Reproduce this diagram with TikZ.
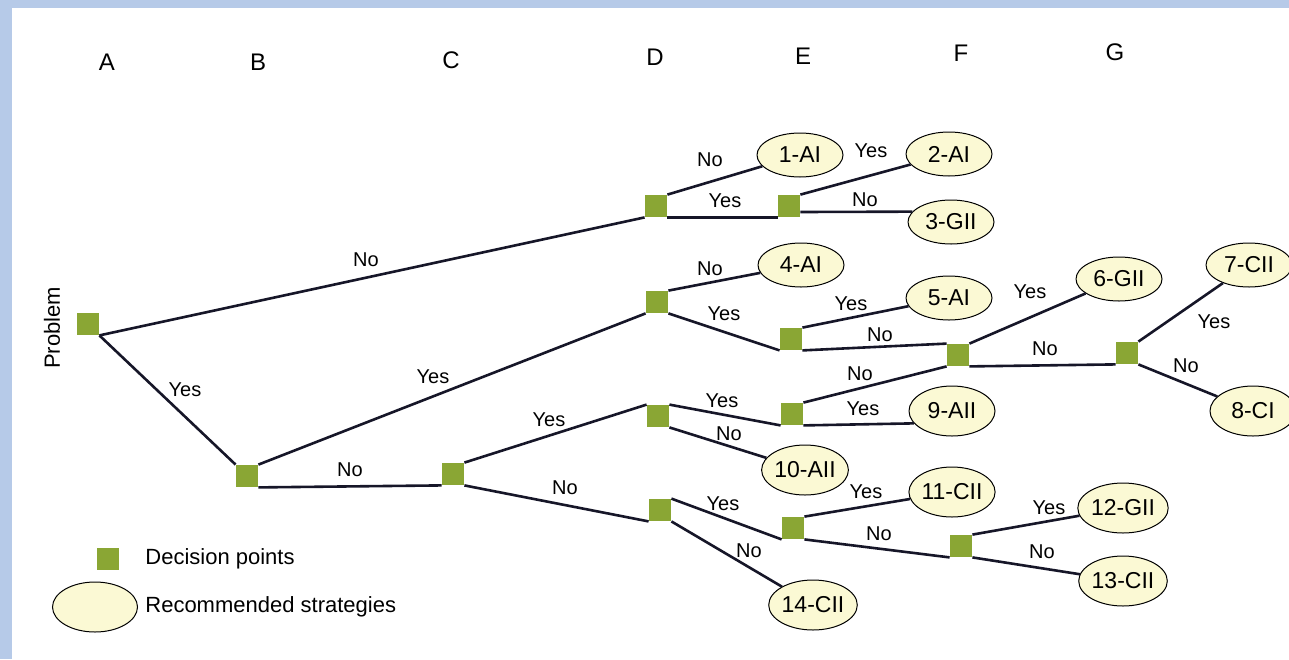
\documentclass[tikz,border=0pt]{standalone}
\usepackage{fontspec}
\setmainfont{Liberation Sans}
\usetikzlibrary{shapes.geometric}
\definecolor{dgreen}{RGB}{138,166,52}
\definecolor{eyellow}{RGB}{251,249,212}
\definecolor{lineblue}{RGB}{22,22,40}
\definecolor{frameblue}{RGB}{182,202,232}
\tikzset{
  dp/.style={rectangle, fill=dgreen, minimum size=11pt, inner sep=0pt},
  strat/.style={ellipse, draw=black, line width=0.5pt, fill=eyellow, minimum width=43pt, minimum height=22pt, inner sep=0pt, font=\fontsize{11.5}{12}\selectfont},
  tall/.style={minimum height=25pt},
  lbl/.style={font=\fontsize{10}{11}\selectfont, inner sep=0pt},
  leg/.style={font=\fontsize{11}{12}\selectfont, inner sep=0pt},
  hdr/.style={font=\fontsize{12}{13}\selectfont, inner sep=0pt},
  conn/.style={draw=lineblue, line width=1.3pt},
}
\begin{document}
\begin{tikzpicture}[x=0.5pt,y=-0.5pt]
\useasboundingbox (0,0) rectangle (1289,659);
\fill[white] (0,0) rectangle (1289,659);
\fill[frameblue] (0,0) rectangle (1289,8);
\fill[frameblue] (0,0) rectangle (12,659);

% headers
\node[hdr] (hA) at (107,62) {A};
\node[hdr] (hB) at (258,62) {B};
\node[hdr] (hC) at (451,60) {C};
\node[hdr] (hD) at (655,57) {D};
\node[hdr] (hE) at (803,56) {E};
\node[hdr] (hF) at (961,53) {F};
\node[hdr] (hG) at (1115,52) {G};

\node[leg, rotate=90] (prob) at (52,328) {Problem};

% decision points
\node[dp] (P0) at (88,324) {};
\node[dp] (B1) at (247,476) {};
\node[dp] (C1) at (453,474) {};
\node[dp] (D1) at (656,206) {};
\node[dp] (E1) at (789,206) {};
\node[dp] (D2) at (657,302) {};
\node[dp] (E2) at (791,339) {};
\node[dp] (F1) at (958,355) {};
\node[dp] (G1) at (1127,353) {};
\node[dp] (D3) at (658,416) {};
\node[dp] (E3) at (792,414) {};
\node[dp] (D4) at (660,510) {};
\node[dp] (E4) at (793,528) {};
\node[dp] (F2) at (961,546) {};

% strategies
\node[strat] (s1) at (800,155) {1-AI};
\node[strat] (s2) at (949,154) {2-AI};
\node[strat] (s3) at (951,222) {3-GII};
\node[strat] (s4) at (801,265) {4-AI};
\node[strat] (s5) at (949,298) {5-AI};
\node[strat] (s6) at (1119,279) {6-GII};
\node[strat] (s7) at (1249,265) {7-CII};
\node[strat, tall] (s8) at (1253,411) {8-CI};
\node[strat, tall] (s9) at (952,411) {9-AII};
\node[strat, tall] (s10) at (805,470) {10-AII};
\node[strat, tall] (s11) at (952,492) {11-CII};
\node[strat, tall] (s12) at (1123,508) {12-GII};
\node[strat, tall] (s13) at (1123,581) {13-CII};
\node[strat, tall] (s14) at (813,605) {14-CII};

% connectors
\draw[conn] (P0.south east) -- (D1.south west);
\node[lbl] at (366,260) {No};
\draw[conn] (P0.south east) -- (B1.north west);
\node[lbl] at (185,390) {Yes};
\draw[conn] (B1.north east) -- (D2.south west);
\node[lbl] at (433,377) {Yes};
\draw[conn] (B1.south east) -- (C1.south west);
\node[lbl] at (350,470) {No};
\draw[conn] (C1.north east) -- (D3.north west);
\node[lbl] at (549,420) {Yes};
\draw[conn] (C1.south east) -- (D4.south west);
\node[lbl] at (565,488) {No};

\draw[conn] (D1.north east) -- (s1);
\node[lbl] at (710,160) {No};
\draw[conn] (D1.south east) -- (E1.south west);
\node[lbl] at (725,201) {Yes};
\draw[conn] (E1.north east) -- (s2);
\node[lbl] at (871,151) {Yes};
\draw[conn] (E1.east) ++(0,6) -- (s3.165);
\node[lbl] at (865,200) {No};

\draw[conn] (D2.north east) -- (s4);
\node[lbl] at (710,269) {No};
\draw[conn] (D2.south east) -- (E2.south west);
\node[lbl] at (724,314) {Yes};
\draw[conn] (E2.north east) -- (s5);
\node[lbl] at (851,304) {Yes};
\draw[conn] (E2.south east) -- (F1.north west);
\node[lbl] at (880,335) {No};
\draw[conn] (F1.north east) -- (s6);
\node[lbl] at (1030,292) {Yes};
\draw[conn] (F1.south east) -- (G1.south west);
\node[lbl] at (1045,349) {No};
\draw[conn] (G1.north east) -- (s7);
\node[lbl] at (1214,322) {Yes};
\draw[conn] (G1.south east) -- (s8);
\node[lbl] at (1186,366) {No};

\draw[conn] (D3.north east) -- (E3.south west);
\node[lbl] at (722,401) {Yes};
\draw[conn] (E3.north east) -- (F1.south west);
\node[lbl] at (860,374) {No};
\draw[conn] (E3.south east) -- (s9.198);
\node[lbl] at (863,409) {Yes};
\draw[conn] (D3.south east) -- (s10);
\node[lbl] at (729,434) {No};

\draw[conn] (D4.north east) -- (E4.south west);
\node[lbl] at (723,504) {Yes};
\draw[conn] (E4.north east) -- (s11);
\node[lbl] at (866,492) {Yes};
\draw[conn] (E4.south east) -- (F2.south west);
\node[lbl] at (879,534) {No};
\draw[conn] (F2.north east) -- (s12);
\node[lbl] at (1049,508) {Yes};
\draw[conn] (F2.south east) -- (s13);
\node[lbl] at (1042,552) {No};
\draw[conn] (D4.south east) -- (s14);
\node[lbl] at (749,551) {No};

% legend
\node[dp] (legdp) at (108,559) {};
\node[leg, anchor=west] (legdpt) at (145,559) {Decision points};
\node[strat, minimum width=42.5pt, minimum height=25pt] (legst) at (95,607) {};
\node[leg, anchor=west] (legstt) at (145,607) {Recommended strategies};
\end{tikzpicture}
\end{document}
